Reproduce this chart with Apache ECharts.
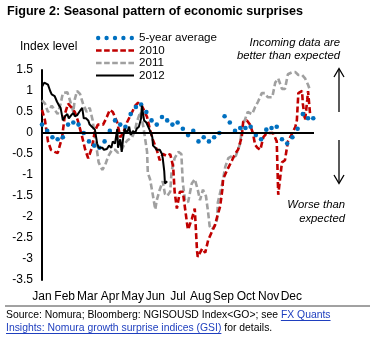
<!DOCTYPE html>
<html>
<head>
<meta charset="utf-8">
<script src="https://cdn.jsdelivr.net/npm/echarts@6/dist/echarts.min.js"></script>
<style>
  html, body { margin: 0; padding: 0; background: #fff; }
  #chart { width: 375px; height: 342px; }
</style>
</head>
<body>
<div id="chart"></div>
<script>
// Economic surprise index by day of year: 5-year average and the 2010-2012 paths.
const FONT = '"Liberation Sans", Arial, Helvetica, sans-serif';

// Month labels sit at evenly spaced twelfths of the year
const monthNames = ['Jan', 'Feb', 'Mar', 'Apr', 'May', 'Jun', 'Jul', 'Aug', 'Sep', 'Oct', 'Nov', 'Dec'];
const monthLabelDays = [0, 30.4, 60.8, 91.3, 121.7, 152.1, 182.5, 212.9, 243.3, 273.8, 304.2, 334.6];

const yMin = -3.5;
const yMax = 1.5;
const yStep = 0.5;

// 5-year average, weekly observations
const avgDays = [0, 7, 14, 21, 28, 35, 42, 49, 56, 63, 70, 77, 84, 91, 98, 105, 112, 119, 126, 133,
  140, 147, 154, 161, 168, 175, 182, 189, 196, 203, 210, 217, 224, 231, 238, 245, 252, 259, 266, 273,
  280, 287, 294, 301, 308, 315, 322, 329, 336, 343, 350, 357, 364];
const avgValues = [0.2, 0.05, -0.1, -0.15, -0.1, 0.2, 0.25, 0.2, 0.0, -0.2, -0.3, -0.35, -0.2, 0.05, 0.3, 0.2, 0.15, 0.45, 0.62, 0.68,
  0.5, 0.3, 0.2, 0.38, 0.3, 0.2, 0.25, 0.1, -0.05, 0.05, -0.2, -0.1, -0.2, -0.1, 0.0, 0.4, 0.25, 0.05, 0.12, 0.12,
  0.15, -0.05, -0.15, 0.08, 0.12, 0.15, -0.15, -0.25, -0.1, 0.1, 0.45, 0.35, 0.35];

// 2010
const days2010 = [0, 4, 8, 12, 17, 21, 27, 31, 35, 40, 44, 48, 54, 58, 62, 67, 71, 75, 82, 87,
  91, 95, 101, 105, 109, 114, 121, 125, 129, 134, 141, 145, 149, 154, 158, 162, 168, 172, 176, 178,
  181, 185, 189, 195, 196, 201, 205, 208, 209, 215, 219, 223, 228, 232, 235, 239, 242, 243, 248, 255,
  259, 263, 268, 270, 275, 279, 283, 286, 289, 293, 297, 302, 306, 310, 315, 317, 322, 326, 330, 336,
  340, 342, 344, 349, 350, 353, 356, 357, 360];
const values2010 = [0.55, 0.3, -0.2, -0.4, -0.45, -0.48, -0.1, 0.47, 0.7, 0.6, 0.5, 0.3, -0.1, -0.4, -0.6, -0.35, 0.05, 0.2, 0.2, 0.38,
  0.55, 0.5, 0.25, -0.1, 0.0, 0.25, 0.5, 0.65, 0.72, 0.65, 0.38, 0.07, -0.17, -0.4, -0.65, -0.5, -0.55, -0.5, -0.8, -1.4,
  -1.8, -1.4, -1.4, -2.2, -2.3, -2.05, -1.8, -2.8, -2.95, -2.75, -2.85, -2.55, -2.35, -2.2, -2.0, -1.75, -1.35, -1.1, -0.9, -0.65,
  -0.5, -0.4, -0.1, 0.27, 0.3, 0.2, 0.0, -0.28, -0.35, -0.4, -0.1, 0.0, 0.0, 0.0, -0.2, -1.47, -0.7, -0.65, -0.2, 0.0,
  0.15, 0.3, 0.95, 1.0, 0.7, 0.3, 0.8, 1.0, 0.4];

// 2011
const days2011 = [0, 4, 8, 13, 17, 21, 25, 28, 34, 38, 42, 44, 47, 51, 55, 60, 64, 68, 71, 74,
  76, 81, 85, 89, 94, 98, 102, 107, 111, 115, 121, 125, 127, 132, 136, 141, 142, 145, 148, 152,
  154, 158, 162, 165, 168, 172, 174, 178, 183, 187, 189, 192, 196, 201, 205, 209, 212, 216, 220, 223,
  225, 228, 232, 235, 236, 242, 246, 250, 255, 260, 266, 268, 272, 276, 282, 286, 290, 295, 299, 303,
  309, 313, 317, 322, 326, 330, 336, 340, 344, 349, 353, 357, 360];
const values2011 = [0.78, 0.7, 0.5, 0.65, 0.55, 0.45, 0.7, 0.95, 0.97, 0.75, 0.5, 0.8, 1.0, 0.93, 0.7, 0.5, 0.6, 0.3, -0.1, -0.45,
  -0.7, -0.88, -0.75, -0.55, -0.4, -0.4, -0.47, -0.4, -0.25, -0.17, -0.1, 0.07, 0.25, 0.5, 0.15, -0.45, -0.95, -1.1, -1.4, -1.82,
  -1.6, -1.35, -1.15, -1.45, -1.5, -1.4, -0.9, -0.6, -0.45, -0.5, -1.2, -1.6, -1.65, -1.2, -1.1, -1.35, -1.6, -1.35, -1.5, -1.9,
  -2.22, -2.3, -2.2, -2.05, -1.65, -1.2, -0.8, -0.6, -0.55, -0.55, -0.25, 0.1, 0.3, 0.5, 0.45, 0.62, 0.75, 0.95, 0.95, 0.85,
  0.85, 1.2, 1.3, 1.05, 1.05, 1.4, 1.45, 1.45, 1.38, 1.38, 1.3, 1.15, 1.0];

// 2012 (year to date)
const days2012 = [0, 3, 5, 8, 11, 13, 17, 20, 23, 25, 28, 31, 34, 36, 39, 42, 44, 47, 50, 52,
  54, 56, 59, 62, 64, 67, 71, 74, 76, 81, 83, 87, 90, 93, 95, 98, 101, 102, 105, 107,
  109, 111, 114, 117, 119, 122, 125, 127, 130, 133, 134, 137, 140, 142, 145, 148, 149, 152, 154, 158,
  161, 162, 164, 165, 168];
const values2012 = [1.1, 1.2, 1.18, 1.15, 1.0, 0.92, 0.88, 0.75, 0.65, 0.6, 0.3, 0.4, 0.45, 0.35, 0.42, 0.48, 0.4, 0.42, 0.5, 0.55,
  0.6, 0.35, 0.35, 0.3, 0.2, 0.15, 0.08, -0.25, -0.35, -0.35, -0.4, -0.38, -0.3, -0.35, -0.2, -0.25, 0.1, -0.35, -0.15, -0.45,
  -0.1, 0.1, 0.0, 0.15, -0.05, 0.05, 0.0, 0.1, 0.15, 0.35, 0.65, 0.3, 0.25, 0.25, 0.05, -0.1, -0.3, -0.35, -0.4, -0.4,
  -0.5, -0.6, -0.9, -1.2, -1.15];

const seriesNames = ['5-year average', '2010', '2011', '2012'];
const seriesColors = ['#0070c0', '#c00000', '#a0a0a0', '#000000'];

function pairs(xs, ys) {
  return xs.map((d, i) => [d, ys[i]]);
}

// Legend glyphs: a row of dots, a row of dashes, a solid bar
function dotsPath(n, r, step) {
  let p = '';
  for (let i = 0; i < n; i++) {
    const cx = r + i * step;
    p += 'M' + (cx - r) + ',' + r + 'A' + r + ',' + r + ',0,1,0,' + (cx + r) + ',' + r +
         'A' + r + ',' + r + ',0,1,0,' + (cx - r) + ',' + r + 'Z';
  }
  return 'path://' + p;
}
function dashesPath(n, len, step, h) {
  let p = '';
  for (let i = 0; i < n; i++) {
    const x = i * step;
    p += 'M' + x + ',0L' + (x + len) + ',0L' + (x + len) + ',' + h + 'L' + x + ',' + h + 'Z';
  }
  return 'path://' + p;
}
const legendIcons = [
  dotsPath(5, 2.2, 8.5),
  dashesPath(5, 5.6, 8.1, 2.6),
  dashesPath(5, 5.6, 8.1, 2.6),
  'path://M0,0L38,0L38,2.2L0,2.2Z'
];

// Footer text with hyperlink-style segments
const footLine1a = 'Source: Nomura; Bloomberg: NGISOUSD Index<GO>; see ';
const footLine1b = 'FX Quants';
const footLine2a = 'Insights: Nomura growth surprise indices (GSI)';
const footLine2b = ' for details.';
const linkColor = '#1f3fbf';

const measureCtx = document.createElement('canvas').getContext('2d');
function textWidth(str, font) {
  measureCtx.font = font;
  return measureCtx.measureText(str).width;
}
const footFont = '10.4px ' + FONT;
const footX = 6;
const w1a = textWidth(footLine1a, footFont);
const w1b = textWidth(footLine1b, footFont);
const w2a = textWidth(footLine2a, footFont);

const noteFont = 'italic 11.3px ' + FONT;

const chart = echarts.init(document.getElementById('chart'), null, { renderer: 'canvas' });

const option = {
  animation: false,
  backgroundColor: '#ffffff',
  textStyle: { fontFamily: FONT },
  grid: { left: 42, right: 61, top: 70, bottom: 62, containLabel: false },
  legend: {
    orient: 'vertical',
    left: 91,
    top: 27,
    itemWidth: 38,
    itemHeight: 8,
    itemGap: 0.5,
    symbolKeepAspect: true,
    textStyle: { fontFamily: FONT, fontSize: 11.6, color: '#000', lineHeight: 12 },
    data: seriesNames.map((n, i) => ({ name: n, icon: legendIcons[i], itemStyle: { color: seriesColors[i] } }))
  },
  xAxis: {
    type: 'value',
    min: 0,
    max: 365,
    axisLine: { show: false, onZero: false },
    axisTick: { show: false },
    splitLine: { show: false },
    axisLabel: {
      customValues: monthLabelDays,
      formatter: v => monthNames[monthLabelDays.indexOf(v)],
      color: '#000',
      fontSize: 12,
      fontFamily: FONT,
      margin: 11
    }
  },
  yAxis: {
    type: 'value',
    min: yMin,
    max: yMax,
    interval: yStep,
    axisLine: { show: true, onZero: false, lineStyle: { color: '#000', width: 2 } },
    axisTick: { show: false },
    splitLine: { show: false },
    axisLabel: { color: '#000', fontSize: 12, fontFamily: FONT, margin: 9 }
  },
  series: [
    {
      name: seriesNames[0],
      type: 'line',
      data: pairs(avgDays, avgValues),
      showSymbol: true,
      symbol: 'circle',
      symbolSize: 4.6,
      itemStyle: { color: seriesColors[0] },
      lineStyle: { width: 0, opacity: 0 },
      z: 3,
      markLine: {
        silent: true,
        symbol: 'none',
        label: { show: false },
        lineStyle: { color: '#000', width: 2, type: 'solid' },
        data: [{ yAxis: 0 }]
      }
    },
    {
      name: seriesNames[1],
      type: 'line',
      data: pairs(days2010, values2010),
      showSymbol: false,
      itemStyle: { color: seriesColors[1] },
      lineStyle: { color: seriesColors[1], width: 2.6, type: [6, 3] },
      z: 2
    },
    {
      name: seriesNames[2],
      type: 'line',
      data: pairs(days2011, values2011),
      showSymbol: false,
      itemStyle: { color: seriesColors[2] },
      lineStyle: { color: seriesColors[2], width: 2.6, type: [6, 3] },
      z: 1
    },
    {
      name: seriesNames[3],
      type: 'line',
      data: pairs(days2012, values2012),
      showSymbol: false,
      itemStyle: { color: seriesColors[3] },
      lineStyle: { color: seriesColors[3], width: 2 },
      z: 4
    }
  ],
  graphic: [
    {
      type: 'text', left: 7, top: 5,
      style: { text: 'Figure 2: Seasonal pattern of economic surprises', font: 'bold 12.6px ' + FONT, fill: '#000' }
    },
    {
      type: 'text', left: 20, top: 41,
      style: { text: 'Index level', font: '12px ' + FONT, fill: '#000' }
    },
    {
      type: 'text', x: 340, y: 43,
      style: { text: 'Incoming data are', font: noteFont, fill: '#000', align: 'right', verticalAlign: 'middle' }
    },
    {
      type: 'text', x: 340, y: 56,
      style: { text: 'better than expected', font: noteFont, fill: '#000', align: 'right', verticalAlign: 'middle' }
    },
    {
      type: 'text', x: 345, y: 205,
      style: { text: 'Worse than', font: noteFont, fill: '#000', align: 'right', verticalAlign: 'middle' }
    },
    {
      type: 'text', x: 345, y: 219,
      style: { text: 'expected', font: noteFont, fill: '#000', align: 'right', verticalAlign: 'middle' }
    },
    // up arrow
    { type: 'line', shape: { x1: 339, y1: 112, x2: 339, y2: 69 }, style: { stroke: '#000', lineWidth: 1.3 } },
    { type: 'polyline', shape: { points: [[334, 77], [339, 68.5], [344, 77]] }, style: { stroke: '#000', lineWidth: 1.3, fill: null } },
    // down arrow
    { type: 'line', shape: { x1: 339, y1: 140, x2: 339, y2: 183 }, style: { stroke: '#000', lineWidth: 1.3 } },
    { type: 'polyline', shape: { points: [[334, 175], [339, 183.5], [344, 175]] }, style: { stroke: '#000', lineWidth: 1.3, fill: null } },
    // footer rule
    { type: 'line', shape: { x1: 5, y1: 306, x2: 370, y2: 306 }, style: { stroke: '#444', lineWidth: 1 } },
    // footer line 1
    { type: 'text', x: footX, y: 315, style: { text: footLine1a, font: footFont, fill: '#000', verticalAlign: 'middle' } },
    { type: 'text', x: footX + w1a, y: 315, style: { text: footLine1b, font: footFont, fill: linkColor, verticalAlign: 'middle' } },
    { type: 'line', shape: { x1: footX + w1a, y1: 320.5, x2: footX + w1a + w1b, y2: 320.5 }, style: { stroke: linkColor, lineWidth: 1 } },
    // footer line 2
    { type: 'text', x: footX, y: 328, style: { text: footLine2a, font: footFont, fill: linkColor, verticalAlign: 'middle' } },
    { type: 'line', shape: { x1: footX, y1: 333.5, x2: footX + w2a, y2: 333.5 }, style: { stroke: linkColor, lineWidth: 1 } },
    { type: 'text', x: footX + w2a, y: 328, style: { text: footLine2b, font: footFont, fill: '#000', verticalAlign: 'middle' } }
  ]
};

chart.setOption(option);
</script>
</body>
</html>
